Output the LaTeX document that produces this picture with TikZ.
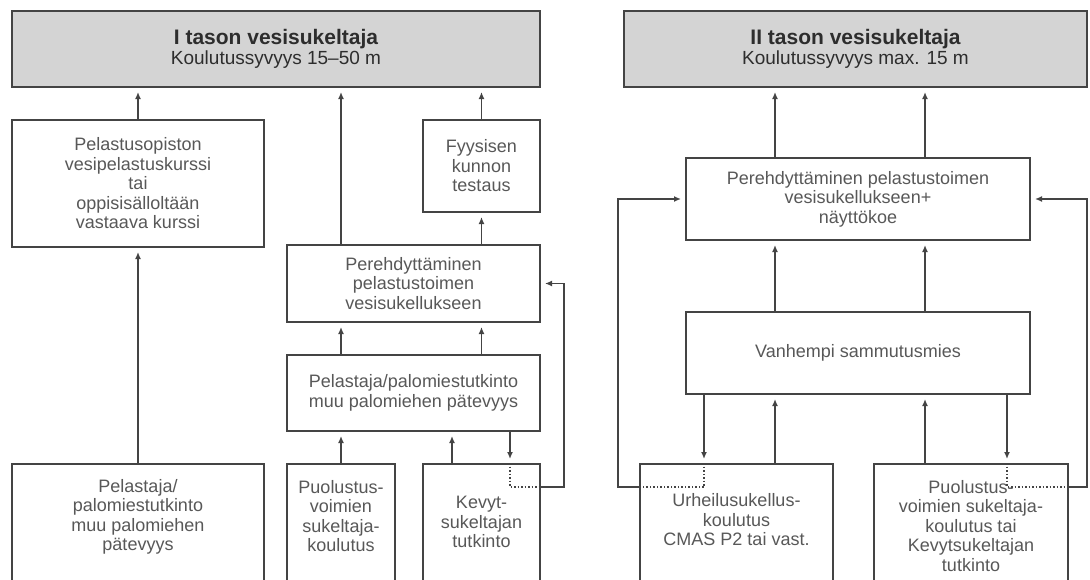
\documentclass[tikz,border=0pt]{standalone}
\usepackage{fontspec}
\setmainfont{Liberation Sans}
\usepackage{xcolor}
\usetikzlibrary{arrows.meta,calc}

\definecolor{linegray}{RGB}{68,68,68}
\definecolor{boxgray}{RGB}{212,212,212}
\definecolor{textgray}{RGB}{88,88,88}
\definecolor{titlegray}{RGB}{45,45,45}

\begin{document}
\begin{tikzpicture}[x=1pt,y=-1pt,
	box/.style={draw=linegray,line width=2pt,fill=white,inner sep=0pt},
	headbox/.style={box,fill=boxgray,text=titlegray,align=center,font=\fontsize{19}{20}\selectfont},
	txt/.style={align=center,text=textgray,font=\fontsize{18}{19.5}\selectfont},
	arr/.style={draw=linegray,line width=1.8pt,-{Latex[length=7pt,width=6pt]},shorten >=4pt},
	dot/.style={draw=linegray,line width=1.5pt,dash pattern=on 1.5pt off 2pt}
	]
		\useasboundingbox (0,0) rectangle (1090,579);
		% I tason vesisukeltaja
		\node[headbox,minimum width=528pt,minimum height=76pt] (topI) at (276,49) {{\bfseries\fontsize{21}{20}\selectfont I tason vesisukeltaja}\\Koulutussyvyys 15--50 m};
		\node[box,txt,minimum width=252pt,minimum height=127pt] (kurssi) at (138,183.5) {Pelastusopiston\\vesipelastuskurssi\\tai\\oppisisälloltään\\vastaava kurssi};
		\node[box,txt,minimum width=117pt,minimum height=92pt] (fyys) at (481.5,166) {Fyysisen\\kunnon\\testaus};
		\node[box,txt,minimum width=253pt,minimum height=77pt] (pereI) at (413.5,283.5) {Perehdyttäminen\\pelastustoimen\\vesisukellukseen};
		\node[box,txt,minimum width=253pt,minimum height=76pt] (palomI) at (413.5,393) {Pelastaja/palomiestutkinto\\muu palomiehen pätevyys};
		\node[box,minimum width=252pt,minimum height=136pt] (palomL) at (138,532) {};
		\node[txt] (palomLtxt) at (138,517) {Pelastaja/\\palomiestutkinto\\muu palomiehen\\pätevyys};
		\node[box,minimum width=108pt,minimum height=136pt] (puolI) at (341,532) {};
		\node[txt] (puolItxt) at (341,516) {Puolustus-\\voimien\\sukeltaja-\\koulutus};
		\node[box,minimum width=117pt,minimum height=136pt] (kevyt) at (481.5,532) {};
		\node[txt] (kevyttxt) at (481.5,522) {Kevyt-\\sukeltajan\\tutkinto};

		\coordinate (kevUp) at (452,0);
		\coordinate (kevDn) at (510,487);
		\coordinate (loopI) at (564,487);
		\draw[arr] (kurssi.north) -- (kurssi.north |- topI.south);
		\draw[arr] (palomL.north) -- (kurssi.south);
		\draw[arr] (pereI.north -| puolI) -- (topI.south -| puolI);
		\draw[arr] (fyys.north) -- (fyys.north |- topI.south);
		\draw[arr] (pereI.north -| fyys) -- (fyys.south);
		\draw[arr] (palomI.north -| puolI) -- (pereI.south -| puolI);
		\draw[arr] (palomI.north -| fyys) -- (pereI.south -| fyys);
		\draw[arr] (puolI.north) -- (palomI.south -| puolI);
		\draw[arr] (kevyt.north -| kevUp) -- (palomI.south -| kevUp);
		\draw[arr] (palomI.south -| kevDn) -- (kevyt.north -| kevDn);
		\draw[dot] (kevyt.north -| kevDn) -- (kevDn) -- (kevDn -| kevyt.east);
		\draw[arr] (kevDn -| kevyt.east) -- (loopI) -- (loopI |- pereI.east) -- (pereI.east);

		% II tason vesisukeltaja
		\node[headbox,minimum width=463pt,minimum height=76pt] (topII) at (855.5,49) {{\bfseries\fontsize{21}{20}\selectfont II tason vesisukeltaja}\\Koulutussyvyys max. 15 m};
		\node[box,txt,minimum width=344pt,minimum height=82pt] (pereII) at (858,199) {Perehdyttäminen pelastustoimen\\vesisukellukseen+\\näyttökoe};
		\node[box,txt,minimum width=344pt,minimum height=82pt] (vanh) at (858,353) {Vanhempi sammutusmies};
		\node[box,minimum width=193pt,minimum height=136pt] (urh) at (736.5,532) {};
		\node[txt] (urhtxt) at (736.5,520) {Urheilusukellus-\\koulutus\\CMAS P2 tai vast.};
		\node[box,minimum width=194pt,minimum height=136pt] (puolII) at (971,532) {};
		\node[txt] (puolIItxt) at (971,526) {Puolustus-\\voimien sukeltaja-\\koulutus tai\\Kevytsukeltajan\\tutkinto};

		\coordinate (colA) at (775,0);
		\coordinate (colB) at (925,0);
		\coordinate (urhDn) at (704,487);
		\coordinate (loopL) at (618,487);
		\coordinate (puoDn) at (1007,487);
		\coordinate (loopR) at (1087,487);
		\draw[arr] (pereII.north -| colA) -- (topII.south -| colA);
		\draw[arr] (pereII.north -| colB) -- (topII.south -| colB);
		\draw[arr] (vanh.north -| colA) -- (pereII.south -| colA);
		\draw[arr] (vanh.north -| colB) -- (pereII.south -| colB);
		\draw[arr] (urh.north -| colA) -- (vanh.south -| colA);
		\draw[arr] (puolII.north -| colB) -- (vanh.south -| colB);
		\draw[arr] (vanh.south -| urhDn) -- (urh.north -| urhDn);
		\draw[dot] (urh.north -| urhDn) -- (urhDn) -- (urhDn -| urh.west);
		\draw[arr] (urhDn -| urh.west) -- (loopL) -- (loopL |- pereII.west) -- (pereII.west);
		\draw[arr] (vanh.south -| puoDn) -- (puolII.north -| puoDn);
		\draw[dot] (puolII.north -| puoDn) -- (puoDn) -- (puoDn -| puolII.east);
		\draw[arr] (puoDn -| puolII.east) -- (loopR) -- (loopR |- pereII.east) -- (pereII.east);
	\end{tikzpicture}
\end{document}
